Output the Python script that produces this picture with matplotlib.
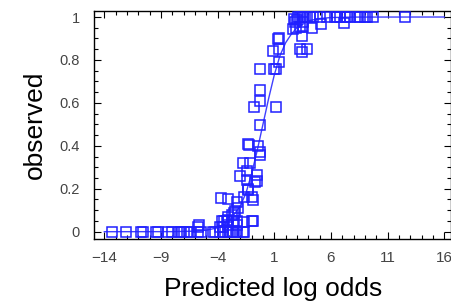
import matplotlib
matplotlib.use("Agg")
import matplotlib.pyplot as plt
from matplotlib.ticker import MultipleLocator, FixedLocator

plt.rcParams['font.family'] = ['Liberation Sans', 'DejaVu Sans']

# observed points (predicted log odds, observed proportion)
pred_x = [
    -13.3, -12.1, -10.8, -10.6, -9.4, -9.3, -8.4, -8.0, -7.4, -7.2, -7.0, -6.7, -6.4,
    -5.7, -5.5, -4.4, -4.2, -3.8, -3.5, -3.1, -2.9, -2.7, -2.6, -2.4, -2.3, -1.8, -1.7,
    -5.7, -5.65, -3.8, -3.5, -3.1, -3.6, -3.4, -3.2, -3.06, -2.6, -2.3, -2.3, -1.7, -1.0,
    -0.85, -3.06, -2.76, -2.55, -2.46, -2.2, -2.3, -3.7, -3.06, -1.64, -0.99, -0.85,
    -1.29, -1.29, -0.7, -2.0, -1.43, -1.43, -0.55, -0.55, -1.73, -1.14, -0.26, -0.26,
    -1.29, -1.25, -0.46, -0.26, -0.79, -0.26, -0.26, -0.26, 1.13, 1.0, 1.15, 1.45, 0.92,
    1.45, 1.3, 1.4, 2.68, 2.83, 2.92, 3.27, 3.56, 3.56, 3.42, 3.27, 3.42, 3.86, 4.3,
    5.1, 7.18, 2.75, 3.0,
    3.12, 3.27, 3.42, 3.56, 3.71, 3.86, 4.15, 4.45, 5.04, 5.63, 6.36, 6.51, 6.8, 7.24,
    7.39, 7.69, 8.42, 8.57, 9.0, 9.16, 9.74, 12.5,
]
observed = [
    0, 0, 0, 0, 0, 0, 0, 0, 0, 0, 0, 0, 0,
    0, 0, 0, 0, 0, 0, 0, 0, 0, 0, 0, 0, 0, 0,
    0.02, 0.03, 0.02, 0.022, 0.03, 0.05, 0.05, 0.05, 0.055, 0.05, 0.03, 0.05, 0.047, 0.05,
    0.052, 0.07, 0.08, 0.088, 0.098, 0.11, 0.14, 0.156, 0.15, 0.163, 0.163, 0.148,
    0.194, 0.2, 0.233, 0.259, 0.284, 0.24, 0.264, 0.237, 0.32, 0.32, 0.373, 0.357,
    0.41, 0.405, 0.40, 0.497, 0.58, 0.61, 0.66, 0.758, 0.58, 0.758, 0.758, 0.79, 0.843,
    0.85, 0.897, 0.9, 0.944, 0.978, 0.95, 0.955, 0.955, 0.978, 0.913, 0.85, 0.838, 0.85, 0.947,
    0.966, 0.97, 0.99, 0.985,
    1, 1, 1, 1, 1, 1, 1, 1, 1, 1, 1, 1, 1, 1,
    1, 1, 1, 1, 1, 1, 1, 1,
]

# fitted curve
curve_x = [-14, -8, -6, -5, -4, -3, -2, -1.5, -1, -0.5, 0, 0.5, 1, 1.5, 2, 2.5, 3, 4, 5, 6, 8, 16]
curve_y = [0, 0.0003, 0.0025, 0.007, 0.018, 0.047, 0.12, 0.18, 0.27, 0.38, 0.5, 0.62,
           0.73, 0.82, 0.88, 0.92, 0.95, 0.982, 0.993, 0.9975, 0.9997, 1.0]

x_ticks = [-14, -9, -4, 1, 6, 11, 16]
y_ticks = [0, 0.2, 0.4, 0.6, 0.8, 1]
y_tick_labels = ['0', '0.2', '0.4', '0.6', '0.8', '1']

fig = plt.figure(figsize=(4.52, 3.03), dpi=100)
ax = fig.add_axes([94 / 452, 64 / 303, 357.5 / 452, 228 / 303])

ax.plot(curve_x, curve_y, color='#4040ff', lw=1.0, zorder=2)
ax.plot(pred_x, observed, linestyle='none', marker='s', markersize=6.6,
        markerfacecolor='none', markeredgecolor='#2020ff', markeredgewidth=1.1, zorder=3)

ax.set_xlim(-14.91, 16.64)
ax.set_ylim(-0.034, 1.028)
ax.xaxis.set_major_locator(FixedLocator(x_ticks))
ax.xaxis.set_minor_locator(MultipleLocator(1))
ax.yaxis.set_major_locator(FixedLocator(y_ticks))
ax.set_yticklabels(y_tick_labels)
ax.yaxis.set_minor_locator(MultipleLocator(0.05))

ax.tick_params(which='both', direction='in', top=True, right=True, colors='black',
               labelcolor='#444444', width=0.8)
ax.tick_params(which='major', length=5)
ax.tick_params(which='minor', length=3)
ax.tick_params(axis='x', labelsize=11, pad=9)
ax.tick_params(axis='y', labelsize=10.5, pad=10)

for s in ax.spines.values():
    s.set_linewidth(1.0)
    s.set_color('black')

ax.set_xlabel('Predicted log odds', fontsize=19, labelpad=8)
ax.set_ylabel('observed', fontsize=19, labelpad=9)

fig.savefig('out.png', dpi=100)
